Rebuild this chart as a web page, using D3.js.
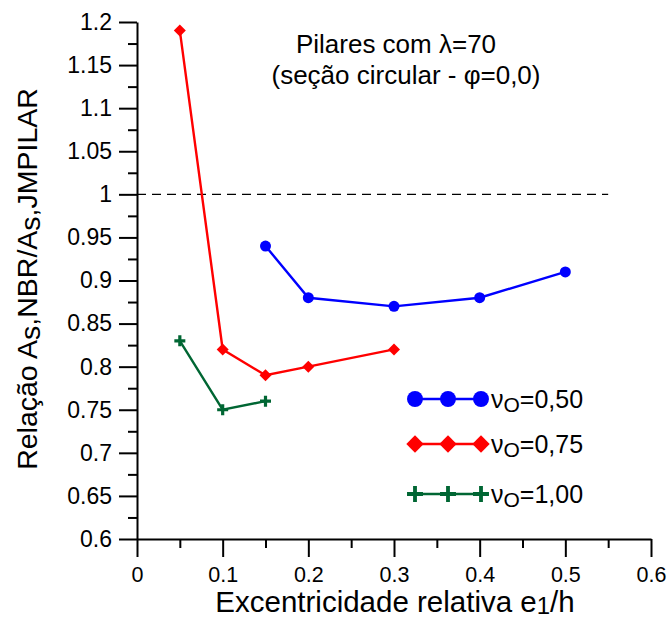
<!DOCTYPE html>
<html>
<head>
<meta charset="utf-8">
<script src="https://cdn.jsdelivr.net/npm/d3@7"></script>
<style>
body { margin: 0; background: #fff; }
text { font-family: "Liberation Sans", Arial, sans-serif; }
</style>
</head>
<body>
<div id="chart"></div>
<script>
// data
var xBlue = [0.15, 0.2, 0.3, 0.4, 0.5];
var yBlue = [0.94, 0.88, 0.87, 0.88, 0.91];
var xRed = [0.05, 0.1, 0.15, 0.2, 0.3];
var yRed = [1.19, 0.82, 0.79, 0.80, 0.82];
var xGreen = [0.05, 0.1, 0.15];
var yGreen = [0.83, 0.75, 0.76];
var xTicks = [0, 0.1, 0.2, 0.3, 0.4, 0.5, 0.6];
var yTicks = [0.6, 0.65, 0.7, 0.75, 0.8, 0.85, 0.9, 0.95, 1, 1.05, 1.1, 1.15, 1.2];
var legendNames = ["0,50", "0,75", "1,00"];

var width = 670, height = 618;
var margin = {top: 22, right: 19, bottom: 79, left: 137};

var svg = d3.select("#chart").append("svg")
    .attr("width", width)
    .attr("height", height);

var x = d3.scaleLinear().domain([0, 0.6]).range([margin.left, width - margin.right]);
var y = d3.scaleLinear().domain([0.6, 1.2]).range([height - margin.bottom, margin.top]);

// axes
var xAxis = svg.append("g")
    .attr("transform", "translate(0," + y(0.6) + ")")
    .call(d3.axisBottom(x).tickValues(xTicks).tickSize(18).tickSizeOuter(0)
        .tickFormat(function(d){ return d === 0 ? "0" : d3.format(".1f")(d); }));
svg.append("g")
    .attr("transform", "translate(0," + y(0.6) + ")")
    .call(d3.axisBottom(x).tickValues([0.05, 0.15, 0.25, 0.35, 0.45, 0.55]).tickSize(9).tickFormat("").tickSizeOuter(0))
    .select(".domain").remove();

var yAxis = svg.append("g")
    .attr("transform", "translate(" + x(0) + ",0)")
    .call(d3.axisLeft(y).tickValues(yTicks).tickSize(18).tickSizeOuter(0)
        .tickFormat(function(d){ return d3.format("")(+d.toFixed(2)); }));
var yMinor = d3.range(0, 12).map(function(i){ return +(0.625 + i * 0.05).toFixed(3); });
svg.append("g")
    .attr("transform", "translate(" + x(0) + ",0)")
    .call(d3.axisLeft(y).tickValues(yMinor).tickSize(9).tickFormat("").tickSizeOuter(0))
    .select(".domain").remove();

svg.selectAll(".domain, .tick line").attr("stroke", "#000").attr("stroke-width", 2);
svg.selectAll(".tick text").attr("font-size", 23).attr("fill", "#000")
    .style("font-family", "'Liberation Sans', Arial, sans-serif");
xAxis.selectAll(".tick text").attr("font-size", 21.5).attr("y", 28);
yAxis.selectAll(".tick text").attr("x", -25);

// reference line at 1
svg.append("line")
    .attr("x1", x(0)).attr("x2", x(0.55))
    .attr("y1", y(1)).attr("y2", y(1))
    .attr("stroke", "#000").attr("stroke-width", 1.4)
    .attr("stroke-dasharray", "9,6");

var line = d3.line().x(function(d){ return x(d[0]); }).y(function(d){ return y(d[1]); });

function zip(a, b) { return a.map(function(v, i){ return [v, b[i]]; }); }

var series = [
    {pts: zip(xBlue, yBlue), color: "#0000ff", shape: "circle"},
    {pts: zip(xRed, yRed), color: "#ff0000", shape: "diamond"},
    {pts: zip(xGreen, yGreen), color: "#006633", shape: "plus"}
];

function marker(g, shape, color, cx, cy, big) {
    var k = big ? 1.45 : 1;
    if (shape === "circle") {
        g.append("circle").attr("cx", cx).attr("cy", cy).attr("r", 5.5 * k).attr("fill", color);
    } else if (shape === "diamond") {
        var s = 6 * k;
        g.append("path")
            .attr("d", "M" + cx + "," + (cy - s) + "L" + (cx + s) + "," + cy + "L" + cx + "," + (cy + s) + "L" + (cx - s) + "," + cy + "Z")
            .attr("fill", color);
    } else {
        var p = 5.5 * k;
        g.append("path")
            .attr("d", "M" + (cx - p) + "," + cy + "H" + (cx + p) + "M" + cx + "," + (cy - p) + "V" + (cy + p))
            .attr("stroke", color).attr("stroke-width", 3.2 * (big ? 1.2 : 1)).attr("fill", "none");
    }
}

series.forEach(function(s) {
    var g = svg.append("g");
    g.append("path").datum(s.pts).attr("d", line)
        .attr("fill", "none").attr("stroke", s.color).attr("stroke-width", 2.4);
    s.pts.forEach(function(p) { marker(g, s.shape, s.color, x(p[0]), y(p[1]), false); });
});

// legend
var legY = [399, 444, 494];
series.forEach(function(s, i) {
    var g = svg.append("g");
    g.append("line").attr("x1", 415).attr("x2", 481).attr("y1", legY[i]).attr("y2", legY[i])
        .attr("stroke", s.color).attr("stroke-width", 2.4);
    [415, 448, 481].forEach(function(cx) { marker(g, s.shape, s.color, cx, legY[i], true); });
    var t = g.append("text").attr("x", 491).attr("y", legY[i] + 9).attr("font-size", 25).attr("fill", "#000");
    t.append("tspan").text("ν");
    t.append("tspan").attr("font-size", 21).attr("dy", 4).text("O");
    t.append("tspan").attr("dy", -4).text("=" + legendNames[i]);
});

// title
svg.append("text").attr("x", 396).attr("y", 53).attr("text-anchor", "middle")
    .attr("font-size", 26).text("Pilares com λ=70");
svg.append("text").attr("x", 406).attr("y", 84).attr("text-anchor", "middle")
    .attr("font-size", 26).text("(seção circular - φ=0,0)");

// axis titles
var xl = svg.append("text").attr("x", 395).attr("y", 612).attr("text-anchor", "middle").attr("font-size", 29.5);
xl.append("tspan").text("Excentricidade relativa e");
xl.append("tspan").attr("font-size", 24).attr("dy", 2).text("1");
xl.append("tspan").attr("dy", -2).text("/h");

var yl = svg.append("text").attr("transform", "translate(37,279) rotate(-90)")
    .attr("text-anchor", "middle").attr("font-size", 28.5);
yl.append("tspan").text("Relação A");
yl.append("tspan").attr("dy", 3).text("s");
yl.append("tspan").attr("dy", -3).text(",NBR/A");
yl.append("tspan").attr("dy", 3).text("s");
yl.append("tspan").attr("dy", -3).text(",JMPILAR");
</script>
</body>
</html>
